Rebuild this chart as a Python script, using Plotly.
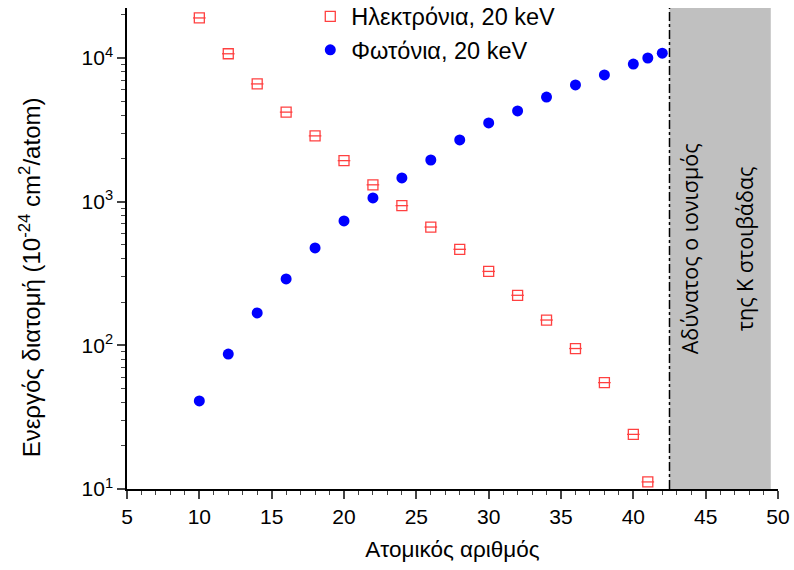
import plotly.graph_objects as go

z_el = [10, 12, 14, 16, 18, 20, 22, 24, 26, 28, 30, 32, 34, 36, 38, 40, 41]
sigma_el = [19000, 10700, 6600, 4200, 2870, 1930, 1310, 938, 666, 466, 327, 223, 150, 95, 55, 24, 11.2]

z_ph = [10, 12, 14, 16, 18, 20, 22, 24, 26, 28, 30, 32, 34, 36, 38, 40, 41, 42]
sigma_ph = [41, 87, 168, 290, 476, 734, 1062, 1463, 1950, 2690, 3530, 4280, 5350, 6490, 7620, 9080, 10000, 10800]

k_edge = 42.5
box_end = 49.5
y_tickvals = [10, 100, 1000, 10000]
y_ticktext = ["10<sup>1</sup>", "10<sup>2</sup>", "10<sup>3</sup>", "10<sup>4</sup>"]
x_tickvals = [5, 10, 15, 20, 25, 30, 35, 40, 45, 50]
box_lines = ["Αδύνατος ο ιονισμός", "της Κ στοιβάδας"]
y_title = "Ενεργός διατομή (10<sup>-24</sup> cm<sup>2</sup>/atom)"

FONT = "Liberation Sans, Arial, sans-serif"
RED = "#ff4040"

fig = go.Figure()
fig.add_trace(go.Scatter(
    x=z_el, y=sigma_el, mode="markers", name="Ηλεκτρόνια, 20 keV",
    marker=dict(symbol="square-open", size=10, color=RED, line=dict(width=1.3, color=RED)),
))
fig.add_trace(go.Scatter(
    x=z_el, y=sigma_el, mode="markers", showlegend=False, hoverinfo="skip",
    marker=dict(symbol="line-ew-open", size=9, color=RED, line=dict(width=1.3, color=RED)),
))
fig.add_trace(go.Scatter(
    x=z_ph, y=sigma_ph, mode="markers", name="Φωτόνια, 20 keV",
    marker=dict(symbol="circle", size=11, color="#0000ff"),
))

fig.add_shape(type="rect", xref="x", yref="paper", x0=k_edge, x1=box_end, y0=0, y1=1,
              fillcolor="#c0c0c0", line=dict(width=0), layer="below")
fig.add_shape(type="line", xref="x", yref="paper", x0=k_edge, x1=k_edge, y0=0, y1=1,
              line=dict(color="black", width=1.5, dash="dashdot"))

for xpos, txt in zip([43.9, 47.7], box_lines):
    fig.add_annotation(x=xpos, y=0.5, xref="x", yref="paper",
                       text=txt, showarrow=False, textangle=-90,
                       xanchor="center", yanchor="middle",
                       font=dict(family="Open Sans, sans-serif", size=21.5, color="black"))

fig.add_annotation(x=-0.149, y=0.44, xref="paper", yref="paper", text=y_title,
                   showarrow=False, textangle=-90, xanchor="center", yanchor="middle",
                   font=dict(size=24))

fig.update_layout(
    width=794, height=570,
    margin=dict(l=127, r=16, t=8, b=81, autoexpand=False),
    paper_bgcolor="white", plot_bgcolor="white",
    font=dict(family=FONT, size=21, color="black"),
    showlegend=True,
    legend=dict(x=0.28, y=1.028, xanchor="left", yanchor="top", bgcolor="rgba(0,0,0,0)",
                font=dict(size=23.5), itemwidth=32, tracegroupgap=0),
    xaxis=dict(range=[5, 50], tickvals=x_tickvals, ticks="outside", ticklen=8, tickwidth=1.5,
               showline=True, linecolor="black", linewidth=1.5, showgrid=False, zeroline=False,
               tickfont=dict(size=21),
               minor=dict(ticks="outside", ticklen=4, tickwidth=1.2, dtick=1, showgrid=False),
               title=dict(text="Ατομικός αριθμός", font=dict(size=22.5), standoff=14)),
    yaxis=dict(type="log", range=[1, 4.348], tickvals=y_tickvals, ticktext=y_ticktext,
               ticks="outside", ticklen=8, tickwidth=1.5,
               showline=True, linecolor="black", linewidth=1.5, showgrid=False, zeroline=False,
               tickfont=dict(size=21),
               minor=dict(ticks="outside", ticklen=4, tickwidth=1.2, dtick="D1", showgrid=False)),
)

fig.write_html("out.html")
